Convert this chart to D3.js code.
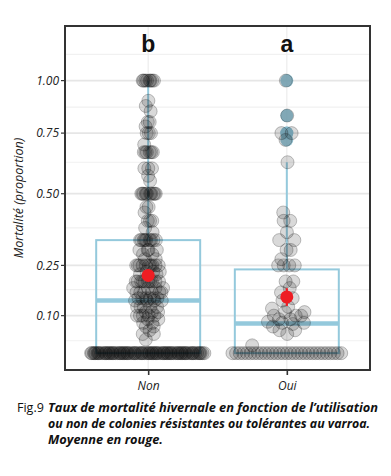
<!DOCTYPE html>
<html><head><meta charset="utf-8">
<script src="https://cdn.jsdelivr.net/npm/d3@7"></script>
<style>body{margin:0;background:#fff}svg{display:block}</style>
</head><body>
<svg id="c" width="391" height="476"></svg>
<script>
const categories = ["Non", "Oui"];
const letters = ["b", "a"];
const yTicks = [0.10, 0.25, 0.50, 0.75, 1.00];
const yTickLabels = ["0.10", "0.25", "0.50", "0.75", "1.00"];
const yMinor = [0.032, 0.175, 0.375, 0.625, 0.87, 1.138];
// observed mortality proportions per apiary
const nonNonZero = [
  1,1,1,1,1,1,1,1, 0.9,0.875,0.85,0.8,0.8,0.78,0.75,0.75,0.75,0.7,
  0.667,0.667,0.667,0.667,0.667,0.667, 0.6,0.6,0.6,0.57,0.55,
  0.5,0.5,0.5,0.5,0.5,0.5,0.5,0.5,0.5,0.5, 0.45,0.45,0.43,0.4,0.4,0.4,0.375,0.36,
  0.333,0.333,0.333,0.333,0.333,0.333,0.333,0.333,0.333,
  0.3,0.3,0.3,0.3,0.286,0.286,0.27,0.27,
  0.25,0.25,0.25,0.25,0.25,0.25,0.25,0.25,0.25,0.25, 0.23,0.23,0.23,0.222,0.222,
  0.2,0.2,0.2,0.2,0.2,0.2,0.2,0.2,0.2,0.2, 0.18,0.18,0.18,0.18,
  0.167,0.167,0.167,0.167,0.167,0.167, 0.15,0.15,0.15,0.15,0.15,0.15,
  0.143,0.143,0.143,0.143, 0.125,0.125,0.125,0.125,0.125, 0.11,0.11,0.11,
  0.1,0.1,0.1,0.1,0.1, 0.09,0.09,0.08,0.08,0.07,0.07,0.06,0.05,0.05,0.035
];
const nonZeroCount = 85;
const ouiNonZero = [
  1, 0.83, 0.75, 0.75, 0.72, 0.625, 0.43, 0.4, 0.4, 0.36, 0.333, 0.333, 0.3, 0.3, 0.27,
  0.25, 0.25, 0.25, 0.25, 0.2, 0.2, 0.18, 0.167, 0.15, 0.143, 0.125, 0.12, 0.11, 0.11,
  0.1, 0.1, 0.1, 0.09, 0.09, 0.083, 0.08, 0.08, 0.077, 0.07, 0.06, 0.06, 0.05, 0.02
];
const ouiZeroCount = 31;
const caption = ["Taux de mortalité hivernale en fonction de l’utilisation",
                 "ou non de colonies résistantes ou tolérantes au varroa.",
                 "Moyenne en rouge."];

const groups = [
  {cat: "Non", values: nonNonZero.concat(d3.range(nonZeroCount).map(() => 0))},
  {cat: "Oui", values: ouiNonZero.concat(d3.range(ouiZeroCount).map(() => 0))}
];

const svg = d3.select("#c");
const L = 65, R = 370, T = 26, B = 370;
const x = d3.scalePoint().domain(categories).range([L, R]).padding(0.6);
const ys = d3.scaleLog().domain([0.958, 2.298]).range([B, T]);
const y = p => ys(1 + p);
const tr = p => Math.log1p(p);

// grid
const g = svg.append("g");
g.selectAll(".mn").data(yMinor).join("line")
  .attr("x1", L).attr("x2", R).attr("y1", d => y(d)).attr("y2", d => y(d))
  .attr("stroke", "#f1f1f1").attr("stroke-width", 1.2);
g.selectAll(".mj").data(yTicks).join("line")
  .attr("x1", L).attr("x2", R).attr("y1", d => y(d)).attr("y2", d => y(d))
  .attr("stroke", "#e6e6e6").attr("stroke-width", 1.8);
g.selectAll(".vx").data(categories).join("line")
  .attr("x1", d => x(d)).attr("x2", d => x(d)).attr("y1", T).attr("y2", B)
  .attr("stroke", "#ececec").attr("stroke-width", 1.2);

// box stats in transformed space (like ggplot with a transformed scale)
const boxW = x.step() * 0.75;
const blue = "#94c9dc";
groups.forEach(gr => {
  const t = gr.values.map(tr).sort(d3.ascending);
  const q1 = d3.quantile(t, 0.25), q2 = d3.quantile(t, 0.5), q3 = d3.quantile(t, 0.75);
  const iqr = q3 - q1;
  const hiLim = q3 + 1.5 * iqr, loLim = q1 - 1.5 * iqr;
  const inside = t.filter(v => v <= hiLim + 1e-9 && v >= loLim - 1e-9);
  gr.whHi = Math.expm1(d3.max(inside)); gr.whLo = Math.expm1(d3.min(inside));
  gr.q1 = Math.expm1(q1); gr.q2 = Math.expm1(q2); gr.q3 = Math.expm1(q3);
  gr.outliers = gr.values.filter(v => tr(v) > hiLim + 1e-9 || tr(v) < loLim - 1e-9);
  gr.mean = d3.mean(gr.values);
  gr.se = d3.deviation(gr.values) / Math.sqrt(gr.values.length);
});

const bx = svg.append("g");
groups.forEach(gr => {
  const cx = x(gr.cat);
  bx.append("line").attr("x1", cx).attr("x2", cx).attr("y1", y(gr.q3)).attr("y2", y(gr.whHi))
    .attr("stroke", blue).attr("stroke-width", 2);
  bx.append("line").attr("x1", cx).attr("x2", cx).attr("y1", y(gr.q1)).attr("y2", y(gr.whLo))
    .attr("stroke", blue).attr("stroke-width", 2);
  bx.append("rect").attr("x", cx - boxW / 2).attr("width", boxW)
    .attr("y", y(gr.q3)).attr("height", y(gr.q1) - y(gr.q3))
    .attr("fill", "none").attr("stroke", blue).attr("stroke-width", 2);
  bx.append("line").attr("x1", cx - boxW / 2).attr("x2", cx + boxW / 2)
    .attr("y1", y(gr.q2)).attr("y2", y(gr.q2)).attr("stroke", blue).attr("stroke-width", 4.5);
  bx.selectAll(null).data(gr.outliers).join("circle")
    .attr("cx", cx).attr("cy", d => y(d)).attr("r", 6.5)
    .attr("fill", "#86bccf").attr("fill-opacity", 0.85);
});

// quasirandom-like horizontal layout
function vdc(n) { let v = 0, den = 1; while (n) { den *= 2; v += (n & 1) / den; n >>= 1; } return v; }
const pts = svg.append("g");
groups.forEach(gr => {
  const t = gr.values.map(tr);
  const h = 0.018;
  const dens = t.map(a => d3.sum(t, b => Math.exp(-0.5 * ((a - b) / h) ** 2)));
  const dmax = d3.max(dens);
  const order = d3.range(t.length).sort((a, b) => t[a] - t[b] || a - b);
  const off = new Array(t.length);
  order.forEach((i, r) => {
    const w = 58 * Math.pow(dens[i] / dmax, 0.9);
    off[i] = w * (2 * vdc(r + 1) - 1);
  });
  pts.selectAll(null).data(gr.values.map((v, i) => ({v, o: off[i]}))).join("circle")
    .attr("cx", d => x(gr.cat) + d.o).attr("cy", d => y(d.v)).attr("r", 6.5)
    .attr("fill", "#000").attr("fill-opacity", 0.15)
    .attr("stroke", "#111").attr("stroke-opacity", 0.25).attr("stroke-width", 1);
});

// means
const mg = svg.append("g");
groups.forEach(gr => {
  const cx = x(gr.cat);
  mg.append("line").attr("x1", cx).attr("x2", cx)
    .attr("y1", y(gr.mean - gr.se)).attr("y2", y(gr.mean + gr.se))
    .attr("stroke", "#ee1d23").attr("stroke-width", 2.2);
  mg.append("circle").attr("cx", cx).attr("cy", y(gr.mean)).attr("r", 6.5)
    .attr("fill", "#ee1d23");
});

// letters
svg.selectAll(".let").data(categories).join("text")
  .attr("x", d => x(d)).attr("y", 52).attr("text-anchor", "middle")
  .attr("font-family", "Liberation Sans, Arial, sans-serif").attr("font-weight", "bold")
  .attr("font-size", 23).attr("fill", "#111").text((d, i) => letters[i]);

// panel border
svg.append("rect").attr("x", L).attr("y", T).attr("width", R - L).attr("height", B - T)
  .attr("fill", "none").attr("stroke", "#333").attr("stroke-width", 2);

// axes
const ya = svg.append("g").attr("transform", `translate(${L},0)`);
ya.selectAll("line").data(yTicks).join("line").attr("x1", -4).attr("x2", 0)
  .attr("y1", d => y(d)).attr("y2", d => y(d)).attr("stroke", "#333").attr("stroke-width", 1.2);
ya.selectAll("text").data(yTicks).join("text").attr("x", -6).attr("y", d => y(d) + 4.3)
  .attr("text-anchor", "end").attr("font-family", "Open Sans").attr("font-style", "italic")
  .attr("font-size", 12).attr("fill", "#222").text((d, i) => yTickLabels[i]);

const xa = svg.append("g").attr("transform", `translate(0,${B})`)
  .call(d3.axisBottom(x).tickSize(5).tickPadding(6));
xa.select(".domain").remove();
xa.selectAll(".tick line").attr("stroke", "#333").attr("stroke-width", 1.6);
xa.selectAll(".tick text").attr("font-family", "Open Sans").attr("font-style", "italic")
  .attr("font-size", 12).attr("fill", "#222");

svg.append("text").attr("transform", `translate(23,${(T + B) / 2}) rotate(-90)`)
  .attr("text-anchor", "middle").attr("font-family", "Open Sans").attr("font-style", "italic")
  .attr("font-size", 12.5).attr("fill", "#222").text("Mortalité (proportion)");

// caption
svg.append("text").attr("x", 17).attr("y", 412).attr("font-family", "Open Sans")
  .attr("font-size", 12.5).attr("fill", "#111").text("Fig.9");
const capWidths = [330, 322];
const capBase = [412, 428, 444];
let ratio = 1;
caption.forEach((s, i) => {
  const t = svg.append("text").attr("x", 48).attr("y", capBase[i]).attr("font-family", "Open Sans")
    .attr("font-style", "italic").attr("font-weight", "bold").attr("font-size", 12.5)
    .attr("fill", "#111").text(s);
  const nat = t.node().getComputedTextLength();
  if (i < 2) { t.attr("textLength", capWidths[i]).attr("lengthAdjust", "spacingAndGlyphs"); if (i === 0) ratio = capWidths[0] / nat; }
  else t.attr("textLength", nat * ratio).attr("lengthAdjust", "spacingAndGlyphs");
});
</script>
</body></html>
